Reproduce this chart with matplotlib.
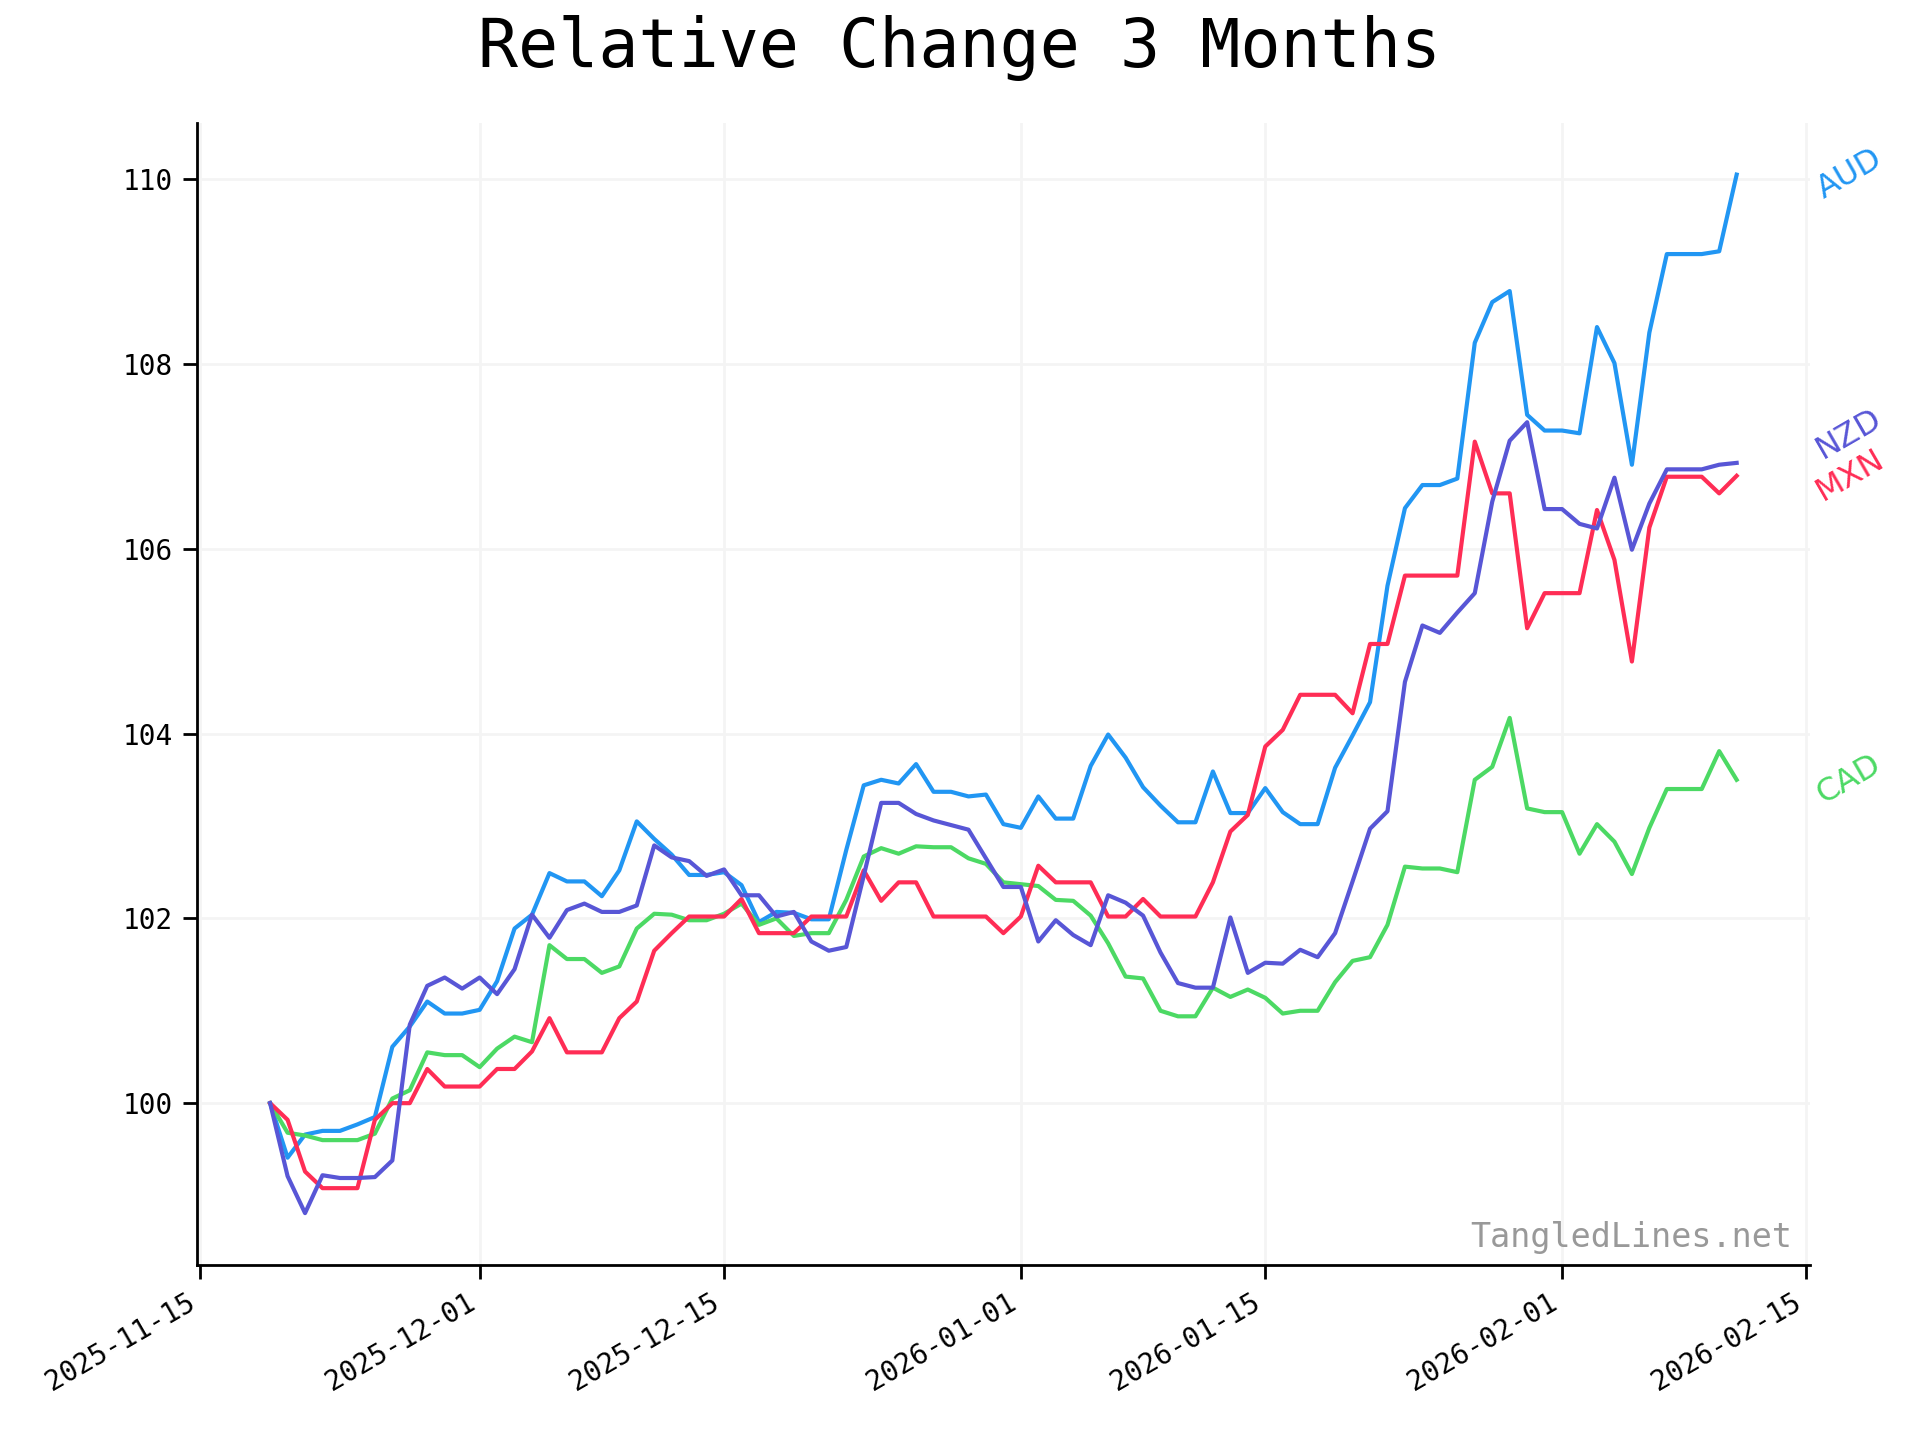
import matplotlib

matplotlib.use("Agg")
import matplotlib.dates as mdates
import matplotlib.pyplot as plt
import matplotlib.transforms as mtransforms
import pandas as pd

DATES = pd.date_range("2025-11-19", "2026-02-11", freq="D")

AUD = [
    100.00, 99.41, 99.66, 99.70, 99.70, 99.77, 99.85, 100.61, 100.83, 101.10,
    100.97, 100.97, 101.01, 101.32, 101.89, 102.04, 102.49, 102.40, 102.40, 102.24,
    102.52, 103.05, 102.86, 102.69, 102.47, 102.47, 102.50, 102.36, 101.96, 102.07,
    102.06, 101.99, 101.99, 102.74, 103.44, 103.50, 103.46, 103.67, 103.37, 103.37,
    103.32, 103.34, 103.02, 102.98, 103.32, 103.08, 103.08, 103.65, 103.99, 103.74,
    103.42, 103.22, 103.04, 103.04, 103.59, 103.14, 103.14, 103.41, 103.15, 103.02,
    103.02, 103.63, 103.98, 104.34, 105.60, 106.44, 106.69, 106.69, 106.76, 108.23,
    108.67, 108.79, 107.45, 107.28, 107.28, 107.25, 108.40, 108.01, 106.91, 108.34,
    109.19, 109.19, 109.19, 109.22, 110.05,
]
NZD = [
    100.00, 99.21, 98.81, 99.22, 99.19, 99.19, 99.20, 99.38, 100.85, 101.27,
    101.36, 101.24, 101.36, 101.18, 101.45, 102.04, 101.79, 102.09, 102.16, 102.07,
    102.07, 102.14, 102.79, 102.66, 102.62, 102.46, 102.53, 102.25, 102.25, 102.02,
    102.07, 101.75, 101.65, 101.69, 102.46, 103.25, 103.25, 103.13, 103.06, 103.01,
    102.96, 102.65, 102.34, 102.34, 101.75, 101.98, 101.82, 101.71, 102.25, 102.17,
    102.03, 101.63, 101.30, 101.25, 101.25, 102.01, 101.41, 101.52, 101.51, 101.66,
    101.58, 101.84, 102.40, 102.97, 103.16, 104.56, 105.17, 105.09, 105.31, 105.52,
    106.51, 107.17, 107.37, 106.43, 106.43, 106.27, 106.22, 106.77, 105.99, 106.49,
    106.86, 106.86, 106.86, 106.91, 106.93,
]
MXN = [
    100.00, 99.82, 99.26, 99.08, 99.08, 99.08, 99.82, 100.00, 100.00, 100.37,
    100.18, 100.18, 100.18, 100.37, 100.37, 100.56, 100.92, 100.55, 100.55, 100.55,
    100.92, 101.10, 101.65, 101.84, 102.02, 102.02, 102.02, 102.21, 101.84, 101.84,
    101.84, 102.02, 102.02, 102.02, 102.52, 102.19, 102.39, 102.39, 102.02, 102.02,
    102.02, 102.02, 101.84, 102.02, 102.57, 102.39, 102.39, 102.39, 102.02, 102.02,
    102.21, 102.02, 102.02, 102.02, 102.39, 102.94, 103.12, 103.86, 104.04, 104.42,
    104.42, 104.42, 104.22, 104.97, 104.97, 105.71, 105.71, 105.71, 105.71, 107.16,
    106.60, 106.60, 105.14, 105.52, 105.52, 105.52, 106.42, 105.88, 104.78, 106.23,
    106.78, 106.78, 106.78, 106.60, 106.79,
]
CAD = [
    100.00, 99.68, 99.65, 99.60, 99.60, 99.60, 99.67, 100.05, 100.14, 100.55,
    100.52, 100.52, 100.39, 100.59, 100.72, 100.66, 101.71, 101.56, 101.56, 101.41,
    101.48, 101.89, 102.05, 102.04, 101.98, 101.98, 102.05, 102.16, 101.93, 102.00,
    101.81, 101.84, 101.84, 102.20, 102.67, 102.76, 102.70, 102.78, 102.77, 102.77,
    102.65, 102.59, 102.39, 102.37, 102.35, 102.20, 102.19, 102.03, 101.73, 101.37,
    101.35, 101.00, 100.94, 100.94, 101.25, 101.15, 101.23, 101.14, 100.97, 101.00,
    101.00, 101.31, 101.54, 101.58, 101.93, 102.56, 102.54, 102.54, 102.50, 103.50,
    103.64, 104.17, 103.19, 103.15, 103.15, 102.70, 103.02, 102.83, 102.48, 102.98,
    103.40, 103.40, 103.40, 103.81, 103.50,
]

SERIES = {"AUD": AUD, "CAD": CAD, "MXN": MXN, "NZD": NZD}
COLORS = {"AUD": "#2196F3", "CAD": "#4CD964", "MXN": "#FF2D55", "NZD": "#5856D6"}


def label_positions(last, gap=0.45):
    # push end labels apart so they don't overlap
    order = sorted(last, key=last.get)
    pos = {}
    prev = None
    for name in order:
        y = last[name]
        if prev is not None and y - prev < gap:
            y = prev + gap
        pos[name] = y
        prev = y
    return pos


def plot():
    plt.rcParams["font.family"] = "DejaVu Sans Mono"
    fig = plt.figure(figsize=(9.6, 7.2), dpi=200)
    ax = fig.add_axes([0.1025, 0.1215, 0.8402, 0.7933])

    for name, vals in SERIES.items():
        ax.plot(DATES, vals, color=COLORS[name], lw=1.5)

    ax.grid(color="#f4f4f4", lw=1.0)
    ax.set_axisbelow(True)
    for side in ("top", "right"):
        ax.spines[side].set_visible(False)
    for side in ("left", "bottom"):
        ax.spines[side].set_linewidth(1.0)
    ax.tick_params(axis="both", labelsize=10, length=5, width=1)

    ax.set_yticks([100, 102, 104, 106, 108, 110])
    ax.xaxis.set_major_locator(mdates.DayLocator(bymonthday=[1, 15]))
    ax.xaxis.set_major_formatter(mdates.DateFormatter("%Y-%m-%d"))
    for lbl in ax.get_xticklabels():
        lbl.set_rotation(30)
        lbl.set_ha("right")

    fig.text(0.5, 1 - 67 / 1440, "Relative Change 3 Months", ha="center",
             va="baseline", fontsize=24)

    trans = mtransforms.blended_transform_factory(ax.transAxes, ax.transData)
    last = {name: vals[-1] for name, vals in SERIES.items()}
    for name, y in label_positions(last).items():
        ax.annotate(name, xy=(1, y), xycoords=trans, xytext=(0.5, 0),
                    textcoords="offset points", ha="left", va="center",
                    rotation=30, fontsize=11.5, color=COLORS[name],
                    family="DejaVu Sans", annotation_clip=False)

    ax.text(0.989, 0.016, "TangledLines.net", transform=ax.transAxes,
            ha="right", va="baseline", fontsize=12, color="#999999")
    return fig, ax


def main():
    fig, _ = plot()
    fig.savefig("out.png", dpi=200)


if __name__ == "__main__":
    main()
